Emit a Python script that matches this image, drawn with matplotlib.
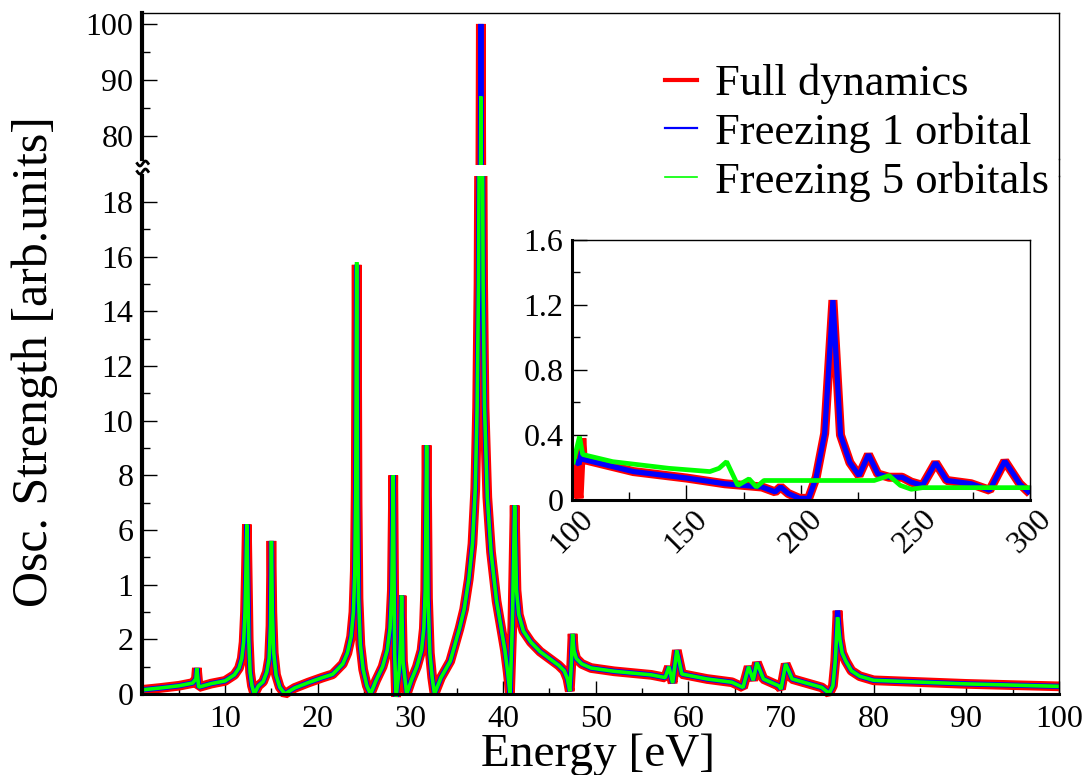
import numpy as np
import matplotlib
matplotlib.use("Agg")
import matplotlib.pyplot as plt
from matplotlib.lines import Line2D
from matplotlib.patches import Rectangle
from matplotlib.ticker import MultipleLocator

plt.rcParams['font.family'] = ['Liberation Serif', 'DejaVu Serif']

# main spectrum (eV, arb. units)
energy = [1.0, 3.0, 5.0, 6.5, 6.85, 6.95, 7.15, 8.5, 10.0, 11.0, 11.5, 11.8, 12.0,
          12.15, 12.25, 12.35, 12.45, 12.55, 12.7, 12.9, 13.15, 13.6, 14.1, 14.5,
          14.75, 14.9, 15.0, 15.1, 15.25, 15.5, 15.9, 16.45, 17.5, 19.0, 20.5, 21.6,
          22.7, 23.2, 23.6, 23.85, 24.0, 24.1, 24.2, 24.3, 24.4, 24.6, 24.9, 25.3,
          25.7, 26.3, 27.0, 27.5, 27.8, 28.0, 28.15, 28.3, 28.45, 28.8, 28.95, 29.05,
          29.2, 29.6, 30.1, 30.7, 31.2, 31.45, 31.6, 31.75, 31.9, 32.1, 32.35, 32.6,
          33.3, 34.3, 35.3, 35.8, 36.3, 36.7, 37.0, 37.2, 37.35, 37.45, 37.6, 37.75,
          37.85, 38.0, 38.3, 38.7, 39.3, 39.8, 40.2, 40.5, 40.75, 41.0, 41.25, 41.45,
          41.7, 42.2, 43.0, 44.0, 45.0, 46.0, 46.6, 46.95, 47.2, 47.35, 47.5, 47.65,
          47.9, 48.5, 49.5, 52.0, 56.0, 57.5, 57.9, 58.3, 58.75, 59.3, 62.0, 64.7,
          65.9, 66.5, 67.0, 67.4, 68.1, 69.75, 70.0, 70.5, 71.2, 74.4, 75.2, 75.6,
          75.85, 76.1, 76.35, 76.6, 77.0, 77.6, 78.5, 80.0, 90.0, 100.0]
full_dyn = [0.15, 0.22, 0.30, 0.40, 0.55, 0.95, 0.25, 0.38, 0.48, 0.70, 0.95, 1.3, 1.9,
            3.0, 4.5, 6.2, 4.0, 2.0, 0.8, 0.3, 0.0, 0.3, 0.45, 0.8,
            1.3, 2.5, 5.6, 3.0, 1.5, 0.7, 0.25, 0.0, 0.22, 0.42, 0.6, 0.72,
            1.1, 1.5, 2.1, 3.0, 4.5, 7.5, 15.7, 7.0, 3.5, 1.8, 0.9, 0.3,
            0.0, 0.5, 1.0, 1.6, 2.4, 3.8, 8.0, 1.5, -0.1, 0.9, 2.0, 3.6,
            1.2, 0.0, 0.5, 1.0, 1.6, 2.4, 3.8, 9.1, 3.5, 1.5, 0.6, 0.0,
            0.6, 1.2, 2.4, 3.1, 4.2, 5.5, 7.5, 10.5, 15.0, 22.0, 100.0, 22.0,
            15.0, 10.5, 7.2, 5.2, 3.4, 2.4, 1.6, 0.8, 0.0, 2.5, 6.9, 3.8,
            2.9, 2.3, 1.9, 1.55, 1.3, 1.05, 0.85, 0.55, 0.1, 1.0, 2.2, 1.6,
            1.3, 1.1, 0.95, 0.83, 0.7, 0.6, 1.0, 0.4, 1.6, 0.73, 0.55, 0.43,
            0.24, 1.0, 0.5, 1.15, 0.55, 0.3, 0.18, 1.1, 0.55, 0.24, 0.02, 0.3,
            1.2, 3.05, 2.0, 1.5, 1.2, 0.85, 0.65, 0.5, 0.37, 0.28]
freeze_1 = list(full_dyn)
freeze_5 = list(full_dyn)
freeze_5[energy.index(37.6)] = 87.0
freeze_5[energy.index(76.1)] = 2.8
freeze_5[energy.index(24.2)] = 15.8

# inset, 100-300 eV
inset_e = [100.5, 103.2, 104.4, 105.0, 126.9, 150.2, 166.8, 183.0, 188.8, 191.2,
           194.5, 199.4, 203.4, 206.7, 210.4, 214.0, 217.3, 221.4, 225.4, 229.5,
           233.6, 238.5, 244.2, 248.2, 253.1, 258.8, 263.7, 274.3, 282.4, 289.0,
           295.5, 300.0]
inset_full = [0.25, 0.01, 0.38, 0.25, 0.175, 0.135, 0.10, 0.08, 0.05, 0.08,
              0.04, 0.01, 0.01, 0.14, 0.41, 1.23, 0.40, 0.23, 0.15, 0.28,
              0.16, 0.14, 0.14, 0.11, 0.09, 0.23, 0.12, 0.10, 0.06, 0.24,
              0.10, 0.04]
inset_f1 = list(inset_full)
inset_f1[1] = 0.22
inset_f1[2] = 0.30
inset_e5 = [100.5, 103.4, 104.8, 117.9, 142.4, 160.3, 164.3, 167.6, 172.5, 177.4,
            180.6, 183.9, 199.4, 232.0, 238.5, 243.4, 248.2, 253.1, 300.0]
inset_f5 = [0.22, 0.39, 0.28, 0.236, 0.195, 0.175, 0.195, 0.236, 0.09, 0.13,
            0.08, 0.12, 0.12, 0.12, 0.15, 0.09, 0.066, 0.076, 0.076]

lower_ticks = [0, 2, 4, 6, 8, 10, 12, 14, 16, 18]
lower_labels = ['0', '2', '1', '6', '8', '10', '12', '14', '16', '18']
upper_ticks = [80, 90, 100]
x_ticks = [10, 20, 30, 40, 50, 60, 70, 80, 90, 100]
inset_xticks = [100, 150, 200, 250, 300]
inset_yticks = [0, 0.4, 0.8, 1.2, 1.6]
inset_ylabels = ['0', '0.4', '0.8', '1.2', '1.6']
series_names = ['Full dynamics', 'Freezing 1 orbital', 'Freezing 5 orbitals']

W, H = 1086, 775


def fx(px):
    return px / W


def fy(py):
    return 1 - py / H


fig = plt.figure(figsize=(W / 100, H / 100), dpi=100)

L, R = 141.7, 1059
ax_lo = fig.add_axes([fx(L), fy(694), (R - L) / W, (694 - 176) / H])
ax_hi = fig.add_axes([fx(L), fy(159), (R - L) / W, (159 - 12.5) / H])

style = dict(solid_joinstyle='bevel', solid_capstyle='butt')
for ax in (ax_lo, ax_hi):
    lines = []
    lines += ax.plot(energy, full_dyn, color='#ff0000', lw=7, **style)
    lines += ax.plot(energy, freeze_1, color='#0000ff', lw=3.8, **style)
    lines += ax.plot(energy, freeze_5, color='#00ff00', lw=2.6, **style)
    clip = Rectangle((0, -0.04), 1, 1.04, transform=ax.transAxes)
    for ln in lines:
        ln.set_clip_path(clip)
    ax.set_xlim(1, 100)
    ax.spines['left'].set_linewidth(3)
    ax.spines['right'].set_linewidth(1)
    ax.spines['top'].set_linewidth(1)
    ax.spines['bottom'].set_linewidth(2.2)
    ax.tick_params(axis='y', which='major', direction='in', length=10.5, width=1,
                   labelsize=23, pad=6, right=False)
    ax.tick_params(axis='y', which='minor', direction='in', length=5.5, width=1, right=False)

ax_lo.set_ylim(0, 18.95)
ax_lo.spines['top'].set_visible(False)
ax_lo.set_yticks(lower_ticks, lower_labels)
ax_lo.yaxis.set_minor_locator(MultipleLocator(1))
ax_lo.set_xticks(x_ticks)
ax_lo.xaxis.set_minor_locator(MultipleLocator(5))
ax_lo.tick_params(axis='x', which='major', direction='in', length=9.5, width=1,
                  labelsize=23, pad=8, top=False)
ax_lo.tick_params(axis='x', which='minor', direction='in', length=4.5, width=1, top=False)

ax_hi.set_ylim(75.8, 102.05)
ax_hi.spines['bottom'].set_visible(False)
ax_hi.set_yticks(upper_ticks)
ax_hi.yaxis.set_minor_locator(MultipleLocator(5))
ax_hi.tick_params(axis='x', which='both', bottom=False, top=False, labelbottom=False)

# right frame across the break, and the break mark on the left axis
fig.add_artist(Line2D([fx(R), fx(R)], [fy(159), fy(176)], color='k', lw=1))
t = np.linspace(-1, 1, 25)
for y0 in (163.5, 171.5):
    fig.add_artist(Line2D(fx(L + 1 + 5.5 * t), fy(y0 - 2.5 * np.sin(np.pi * t)),
                          color='k', lw=2))

fig.text(fx(35), fy(362), 'Osc. Strength [arb.units]', rotation=90,
         ha='center', va='center', fontsize=36)
fig.text(fx(598), fy(766), 'Energy [eV]', ha='center', va='baseline', fontsize=34)

handles = [Line2D([], [], color='#ff0000', lw=3),
           Line2D([], [], color='#0000ff', lw=1.6),
           Line2D([], [], color='#00ff00', lw=1.2)]
fig.legend(handles, series_names, loc='upper left', bbox_to_anchor=(fx(665), fy(64)),
           frameon=False, fontsize=32, handlelength=0.72, handletextpad=0.4,
           labelspacing=0.18, borderpad=0, borderaxespad=0)

# inset
ax_in = fig.add_axes([fx(571.7), fy(500), (1030 - 571.7) / W, 260 / H])
ax_in.plot(inset_e, inset_full, color='#ff0000', lw=6.5, **style)
ax_in.plot(inset_e, inset_f1, color='#0000ff', lw=3.8, **style)
ax_in.plot(inset_e5, inset_f5, color='#00ff00', lw=3.4, **style)
ax_in.set_xlim(100, 300)
ax_in.set_ylim(0, 1.6)
ax_in.set_xticks(inset_xticks)
ax_in.xaxis.set_minor_locator(MultipleLocator(25))
ax_in.set_yticks(inset_yticks, inset_ylabels)
ax_in.yaxis.set_minor_locator(MultipleLocator(0.2))
ax_in.spines['left'].set_linewidth(2.2)
ax_in.spines['bottom'].set_linewidth(2.2)
ax_in.spines['right'].set_linewidth(1)
ax_in.spines['top'].set_linewidth(1)
ax_in.tick_params(axis='both', which='major', direction='in', length=11, width=1,
                  labelsize=23, top=False, right=False)
ax_in.tick_params(axis='both', which='minor', direction='in', length=6, width=1,
                  top=False, right=False)
ax_in.tick_params(axis='y', pad=6)
ax_in.tick_params(axis='x', pad=3)
for lab in ax_in.get_xticklabels():
    lab.set_rotation(45)
    lab.set_ha('center')

fig.savefig('out.png', dpi=100)
